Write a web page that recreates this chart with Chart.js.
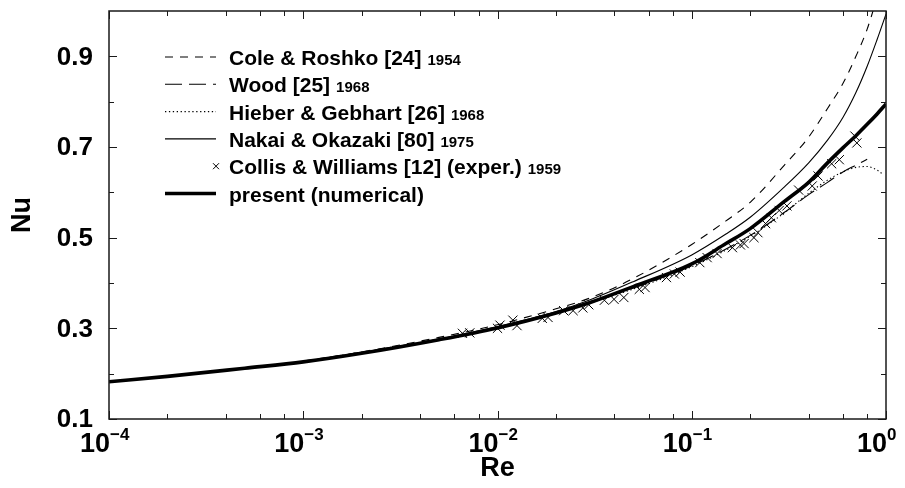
<!DOCTYPE html>
<html>
<head>
<meta charset="utf-8">
<script src="https://cdn.jsdelivr.net/npm/chart.js@4.4.0/dist/chart.umd.min.js"></script>
<style>
  body { margin: 0; background: #fff; }
  canvas { display: block; }
</style>
</head>
<body>
<canvas id="graphic" width="905" height="488"></canvas>
<script>
// Nu versus Re, circular cylinder heat transfer
const presentRe = [0.0001, 0.0002, 0.0005, 0.001, 0.002, 0.005, 0.01, 0.02, 0.03, 0.05, 0.1, 0.15, 0.2, 0.3, 0.4, 0.5, 0.6, 0.7, 0.8, 0.9, 1.0]
const presentNu = [0.182, 0.194, 0.212, 0.226, 0.245, 0.275, 0.301, 0.334, 0.357, 0.392, 0.442, 0.487, 0.52, 0.58, 0.622, 0.665, 0.698, 0.725, 0.75, 0.773, 0.795]

const coleRe = [0.001, 0.002, 0.005, 0.01, 0.02, 0.03, 0.05, 0.1, 0.15, 0.2, 0.3, 0.4, 0.5, 0.6, 0.7, 0.8, 0.9]
const coleNu = [0.228, 0.248, 0.28, 0.308, 0.343, 0.367, 0.41, 0.485, 0.537, 0.578, 0.66, 0.722, 0.785, 0.84, 0.9, 0.96, 1.03]

const woodRe = [0.001, 0.01, 0.03, 0.1, 0.2, 0.3, 0.4, 0.5, 0.6, 0.7, 0.8]
const woodNu = [0.226, 0.302, 0.358, 0.438, 0.505, 0.556, 0.595, 0.622, 0.645, 0.66, 0.673]

const hieberRe = [0.001, 0.01, 0.03, 0.1, 0.2, 0.3, 0.4, 0.5, 0.6, 0.7, 0.8, 0.9, 0.95]
const hieberNu = [0.226, 0.301, 0.356, 0.436, 0.503, 0.555, 0.598, 0.627, 0.645, 0.655, 0.657, 0.649, 0.642]

const nakaiRe = [0.001, 0.003, 0.01, 0.02, 0.03, 0.05, 0.1, 0.15, 0.2, 0.3, 0.4, 0.5, 0.6, 0.7, 0.8, 0.9, 1.0]
const nakaiNu = [0.227, 0.258, 0.304, 0.337, 0.363, 0.403, 0.462, 0.508, 0.545, 0.612, 0.665, 0.715, 0.765, 0.82, 0.878, 0.937, 0.993]

const collisRe = [0.0066, 0.0072, 0.0100, 0.0103, 0.0120, 0.0126, 0.0170, 0.0182, 0.0219, 0.0245, 0.0275, 0.0295, 0.0355, 0.0398, 0.0447, 0.0537, 0.0575, 0.0741, 0.0813, 0.0871, 0.110, 0.120, 0.135, 0.162, 0.178, 0.186, 0.209, 0.219, 0.240, 0.257, 0.282, 0.309, 0.355, 0.417, 0.447, 0.525, 0.575, 0.692, 0.708]
const collisNu = [0.289, 0.290, 0.300, 0.307, 0.318, 0.306, 0.322, 0.324, 0.339, 0.339, 0.345, 0.352, 0.362, 0.364, 0.368, 0.386, 0.390, 0.412, 0.420, 0.424, 0.445, 0.456, 0.465, 0.478, 0.484, 0.487, 0.500, 0.511, 0.531, 0.544, 0.560, 0.570, 0.605, 0.614, 0.636, 0.663, 0.672, 0.724, 0.709]

const xTickValues = [0.0001, 0.001, 0.01, 0.1, 1]
const xTickExps = ['\u22124', '\u22123', '\u22122', '\u22121', '0']
const yTickValues = [0.1, 0.3, 0.5, 0.7, 0.9]
const yTickLabels = ['0.1', '0.3', '0.5', '0.7', '0.9']
const yMinorValues = [0.2, 0.4, 0.6, 0.8]

const legendNames = ['Cole & Roshko [24]', 'Wood [25]', 'Hieber & Gebhart [26]', 'Nakai & Okazaki [80]', 'Collis & Williams [12] (exper.)', 'present (numerical)']
const legendYears = ['1954', '1968', '1968', '1975', '1959', '']

const FONT = '"Liberation Sans", Arial, Helvetica, sans-serif'

function pts(xs, ys) {
  return xs.map((x, i) => ({ x: x, y: ys[i] }))
}

function lineSet(label, xs, ys, width, dash, order) {
  return {
    label: label,
    data: pts(xs, ys),
    showLine: true,
    borderColor: '#000',
    backgroundColor: '#000',
    borderWidth: width,
    borderDash: dash,
    pointRadius: 0,
    cubicInterpolationMode: 'monotone',
    order: order
  }
}

const styles = [
  { dash: [8, 7], width: 1.1 },
  { dash: [17, 7], width: 1.1 },
  { dash: [1.3, 2.6], width: 1.1 },
  { dash: [], width: 1.1 },
  null,
  { dash: [], width: 3.6 }
]

const decor = {
  id: 'decor',
  afterDraw(chart) {
    const ctx = chart.ctx
    const a = chart.chartArea
    const xs = chart.scales.x
    const ys = chart.scales.y
    ctx.save()

    // frame
    ctx.strokeStyle = '#1a1a1a'
    ctx.lineWidth = 1.5
    ctx.strokeRect(a.left, a.top, a.right - a.left, a.bottom - a.top)

    // ticks, inside on all four sides
    ctx.lineWidth = 1
    ctx.beginPath()
    xTickValues.forEach((v, i) => {
      const px = Math.round(xs.getPixelForValue(v)) + 0.5
      ctx.moveTo(px, a.bottom); ctx.lineTo(px, a.bottom - 8)
      ctx.moveTo(px, a.top); ctx.lineTo(px, a.top + 8)
      if (i < xTickValues.length - 1) {
        [2, 4, 6, 8].forEach(m => {
          const q = Math.round(xs.getPixelForValue(v * m)) + 0.5
          ctx.moveTo(q, a.bottom); ctx.lineTo(q, a.bottom - 5)
          ctx.moveTo(q, a.top); ctx.lineTo(q, a.top + 5)
        })
      }
    })
    yTickValues.forEach(v => {
      const py = Math.round(ys.getPixelForValue(v)) + 0.5
      ctx.moveTo(a.left, py); ctx.lineTo(a.left + 8, py)
      ctx.moveTo(a.right, py); ctx.lineTo(a.right - 8, py)
    })
    yMinorValues.forEach(v => {
      const py = Math.round(ys.getPixelForValue(v)) + 0.5
      ctx.moveTo(a.left, py); ctx.lineTo(a.left + 5, py)
      ctx.moveTo(a.right, py); ctx.lineTo(a.right - 5, py)
    })
    ctx.stroke()

    ctx.fillStyle = '#000'
    // y tick labels
    ctx.font = 'bold 26px ' + FONT
    ctx.textAlign = 'right'
    ctx.textBaseline = 'middle'
    yTickValues.forEach((v, i) => {
      ctx.fillText(yTickLabels[i], a.left - 16, ys.getPixelForValue(v) + 1)
    })

    // x tick labels 10^n
    ctx.textBaseline = 'alphabetic'
    xTickValues.forEach((v, i) => {
      const px = xs.getPixelForValue(v)
      ctx.font = 'bold 27px ' + FONT
      ctx.textAlign = 'right'
      ctx.fillText('10', px + 1, a.bottom + 33)
      ctx.font = 'bold 17px ' + FONT
      ctx.textAlign = 'left'
      ctx.fillText(xTickExps[i], px + 1, a.bottom + 21)
    })

    // axis titles
    ctx.font = 'bold 27px ' + FONT
    ctx.textAlign = 'center'
    ctx.textBaseline = 'middle'
    ctx.fillText('Re', (a.left + a.right) / 2, a.bottom + 50)
    ctx.save()
    ctx.translate(23, 215)
    ctx.rotate(-Math.PI / 2)
    ctx.fillText('Nu', 0, 0)
    ctx.restore()

    // legend
    const x0 = 165, x1 = 216, tx = 229
    legendNames.forEach((name, i) => {
      const y = 57 + i * 27.3
      const st = styles[i]
      ctx.strokeStyle = '#000'
      if (st) {
        ctx.lineWidth = st.width
        ctx.setLineDash(st.dash)
        ctx.beginPath()
        ctx.moveTo(x0, y); ctx.lineTo(x1, y)
        ctx.stroke()
        ctx.setLineDash([])
      } else {
        ctx.lineWidth = 1
        ctx.beginPath()
        ctx.moveTo(x1 - 3, y - 3); ctx.lineTo(x1 + 3, y + 3)
        ctx.moveTo(x1 - 3, y + 3); ctx.lineTo(x1 + 3, y - 3)
        ctx.stroke()
      }
      ctx.font = 'bold 21px ' + FONT
      ctx.textAlign = 'left'
      ctx.textBaseline = 'alphabetic'
      ctx.fillText(name, tx, y + 8)
      if (legendYears[i]) {
        const w = ctx.measureText(name).width
        ctx.font = 'bold 15px ' + FONT
        ctx.fillText(legendYears[i], tx + w + 6, y + 8)
      }
    })
    ctx.restore()
  }
}

const config = {
  type: 'scatter',
  data: {
    datasets: [
      lineSet('Cole & Roshko', coleRe, coleNu, styles[0].width, styles[0].dash, 4),
      lineSet('Wood', woodRe, woodNu, styles[1].width, styles[1].dash, 3),
      lineSet('Hieber & Gebhart', hieberRe, hieberNu, styles[2].width, styles[2].dash, 5),
      lineSet('Nakai & Okazaki', nakaiRe, nakaiNu, styles[3].width, styles[3].dash, 2),
      {
        label: 'Collis & Williams',
        data: pts(collisRe, collisNu),
        showLine: false,
        pointStyle: 'crossRot',
        pointRadius: 6.5,
        borderWidth: 1,
        borderColor: '#000',
        backgroundColor: '#000',
        order: 0
      },
      lineSet('present', presentRe, presentNu, styles[5].width, styles[5].dash, 1)
    ]
  },
  options: {
    responsive: false,
    animation: false,
    layout: { padding: { left: 109, right: 19, top: 11, bottom: 69 } },
    plugins: { legend: { display: false }, tooltip: { enabled: false } },
    scales: {
      x: { type: 'logarithmic', min: 0.0001, max: 1, display: false },
      y: { type: 'linear', min: 0.1, max: 1.0, display: false }
    }
  },
  plugins: [decor]
}

new Chart(document.getElementById('graphic'), config)
</script>
</body>
</html>
